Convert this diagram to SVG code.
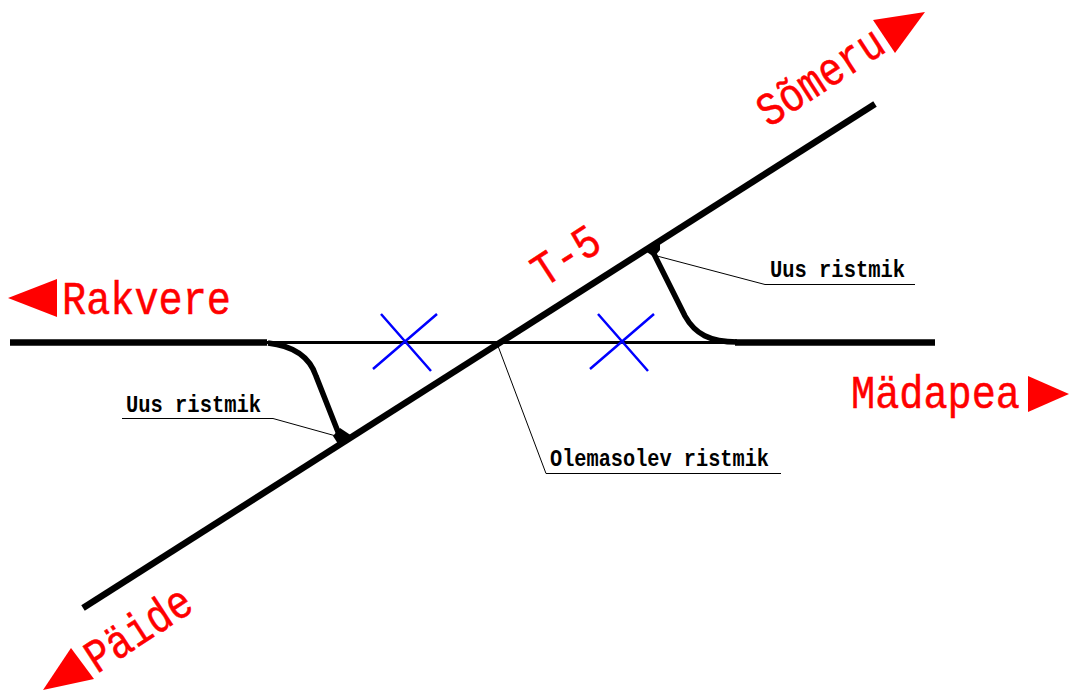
<svg xmlns="http://www.w3.org/2000/svg" width="1069" height="692" viewBox="0 0 1069 692">
<style>
.road{fill:none;stroke:#000;stroke-width:6.5}
.ramp{fill:none;stroke:#000;stroke-width:5.500}
.thin{fill:none;stroke:#000;stroke-width:3}
.lead{fill:none;stroke:#000;stroke-width:1}
.x{fill:none;stroke:#00f;stroke-width:2.500}
.arrow{fill:#f00}
.fillet{fill:#000}
.place{font-family:"Liberation Mono",monospace;font-size:47px;fill:#f00;stroke:#f00;stroke-width:.5}
.note{font-family:"Liberation Mono",monospace;font-size:24px;font-weight:bold;fill:#000}
</style>
<rect width="1069" height="692" fill="#fff"/>
<g id="connectors">
<path class="road" d="M10 342.500H267"/>
<path class="thin" d="M265 342.500H737"/>
<path class="road" d="M735 342.500H935"/>
<path class="road" d="M83 608L875 104"/>
<path class="ramp" d="M268 343C295 346 310 358 316 376L342 442"/>
<path class="ramp" d="M652 250L685 316C695 334 710 342 737 342"/>
<polygon class="fillet" points="333,436 340,428 352,436 340,447"/>
<polygon class="fillet" points="644,250 660,242 660,250 654,257"/>
<path class="lead" d="M122 418.500H273L336 436"/>
<path class="lead" d="M657 256L765 284.500H915"/>
<path class="lead" d="M498 346L546 473.500H781"/>
</g>
<g id="cross-left"><path class="x" d="M381 314L431 371M437 314L373 369"/></g>
<g id="cross-right"><path class="x" d="M598 314L648 371M654 314L590 369"/></g>
<g id="rakvere"><polygon class="arrow" points="8,298 57,279 57,317"/><text class="place" x="62" y="314" textLength="169" lengthAdjust="spacingAndGlyphs">Rakvere</text></g>
<g id="madapea"><polygon class="arrow" points="1028,376 1028,412 1069,394"/><text class="place" x="851" y="408" textLength="169" lengthAdjust="spacingAndGlyphs">Mädapea</text></g>
<g id="someru"><polygon class="arrow" points="873,20 925,12 895,53"/><text class="place" transform="translate(769 128) rotate(-33)" textLength="142" lengthAdjust="spacingAndGlyphs">Sõmeru</text></g>
<g id="paide"><polygon class="arrow" points="71,648 94,679 43,690"/><text class="place" transform="translate(97 674) rotate(-33)" textLength="118" lengthAdjust="spacingAndGlyphs">Päide</text></g>
<g id="t5"><text class="place" transform="translate(544 288) rotate(-33)" textLength="72" lengthAdjust="spacingAndGlyphs">T-5</text></g>
<g id="note-left"><text class="note" x="126" y="412" textLength="135" lengthAdjust="spacingAndGlyphs">Uus ristmik</text></g>
<g id="note-right"><text class="note" x="770" y="277" textLength="135" lengthAdjust="spacingAndGlyphs">Uus ristmik</text></g>
<g id="note-mid"><text class="note" x="550" y="466" textLength="219" lengthAdjust="spacingAndGlyphs">Olemasolev ristmik</text></g>
</svg>
